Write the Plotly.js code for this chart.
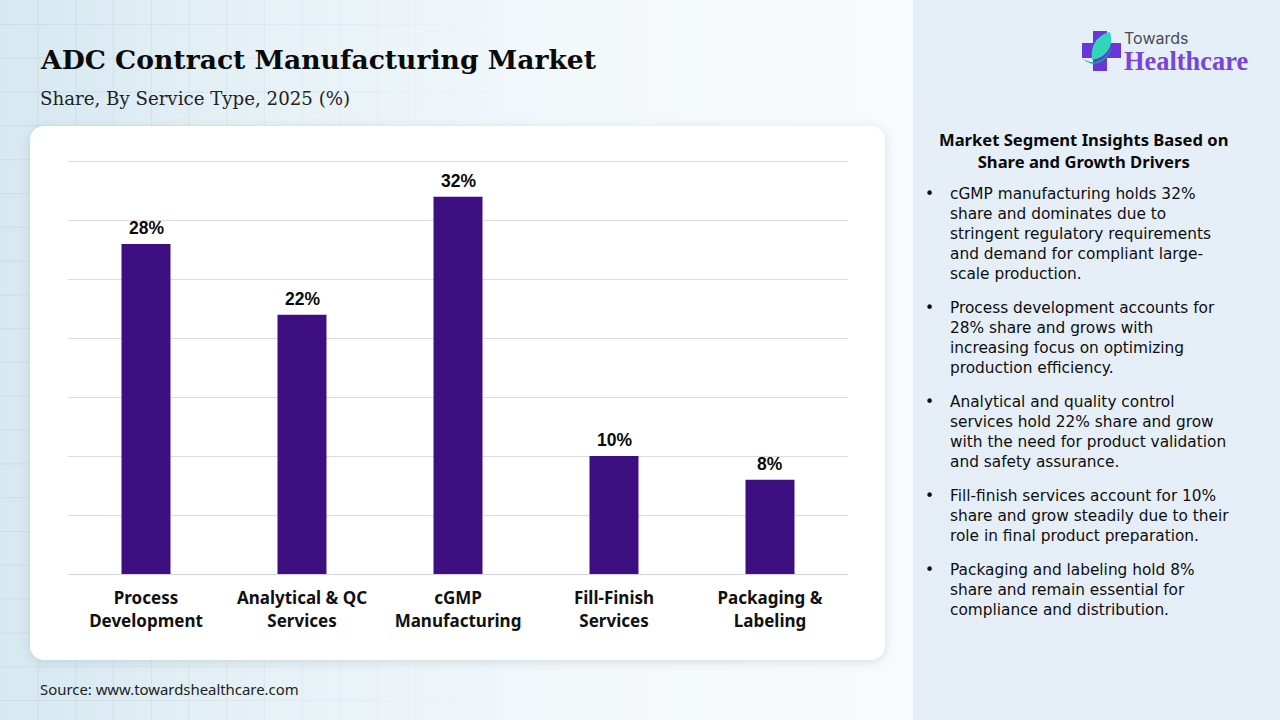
<!DOCTYPE html>
<html><head><meta charset="utf-8">
<script src="https://cdn.plot.ly/plotly-3.0.1.min.js"></script>
<style>
html,body{margin:0;padding:0;width:1280px;height:720px;overflow:hidden}
#bg{position:absolute;left:0;top:0;width:1280px;height:720px;
background:linear-gradient(90deg,#d6e8f1 0%,#e6f1f6 20%,#f3f8fb 45%,#f8fbfd 71%);}
#panel{position:absolute;left:913px;top:0;width:367px;height:720px;background:linear-gradient(180deg,#e5eff7,#e5eef6)}
#card{position:absolute;left:30px;top:126px;width:855px;height:534px;background:#fff;border-radius:14px;box-shadow:0 2px 10px rgba(120,140,160,.25)}
#deco{position:absolute;left:0;top:0}
#chart{position:absolute;left:0;top:0;width:1280px;height:720px}
</style></head><body>
<div id="bg"></div>
<svg id="deco" width="1280" height="720"></svg>
<div id="panel"></div>
<div id="card"></div>
<svg id="logo" style="position:absolute;left:0;top:0" width="1280" height="720">
<path d="M1093 31h14v12h14v15h-14v13h-14v-13h-11v-15h11z" fill="#6a35d9"/>
<path d="M1092 60c-2-14 5-25 18-28c4 13-2 25-18 28z" fill="#2fd6b8"/>
<path d="M1083 59c8 5 20 6 29-12c-3 13-17 23-29 12z" fill="#12a89a"/>
</svg>
<div id="chart"></div>
<script>
var categories=["Process<br>Development","Analytical & QC<br>Services","cGMP<br>Manufacturing","Fill-Finish<br>Services","Packaging &<br>Labeling"];
var shares=[28,22,32,10,8];
var chartTitle="ADC Contract Manufacturing Market";
var chartSubtitle="Share, By Service Type, 2025 (%)";
var sourceText="Source: www.towardshealthcare.com";
var insightsHeading="Market Segment Insights Based on<br>Share and Growth Drivers";
var insights=[
["cGMP manufacturing holds 32%","share and dominates due to","stringent regulatory requirements","and demand for compliant large-","scale production."],
["Process development accounts for","28% share and grows with","increasing focus on optimizing","production efficiency."],
["Analytical and quality control","services hold 22% share and grow","with the need for product validation","and safety assurance."],
["Fill-finish services account for 10%","share and grow steadily due to their","role in final product preparation."],
["Packaging and labeling hold 8%","share and remain essential for","compliance and distribution."]];
var insightTops=[184,298,392,486,560];

// faint background grid
var deco=document.getElementById('deco'),s='<defs><linearGradient id="f" gradientUnits="userSpaceOnUse" x1="0" y1="0" x2="520" y2="0"><stop offset="0" stop-color="#c4d6df" stop-opacity=".65"/><stop offset="1" stop-color="#c4d6df" stop-opacity="0"/></linearGradient></defs>';
for(var i=1;i<14;i++){var x=i*37.7;s+='<rect x="'+x+'" y="0" width="1" height="720" fill="url(#f)"/>';}
for(var j=0;j<22;j++){var y=24+(j-1)*33.8;s+='<rect x="0" y="'+y+'" width="520" height="1" fill="url(#f)"/>';}
deco.innerHTML=s;

var yTop=35.2,L=68,R=848,B=574,T=B-yTop*(413/35);
function px(x){return (x-L)/(R-L)}
function py(y){return (B-y)/(B-T)}
function note(x,y,text,font,opt){
  return Object.assign({xref:'paper',yref:'paper',x:px(x),y:py(y),text:text,showarrow:false,xanchor:'left',yanchor:'top',align:'left',font:font,borderpad:0},opt||{});
}
var body={family:'DejaVu Sans',size:15.35,color:'#0e0e0e'};
var anns=[
 note(39,43,chartTitle,{family:'DejaVu Serif',size:26.6,color:'#0a0a0a',weight:700}),
 note(39,87,chartSubtitle,{family:'DejaVu Serif',size:18.2,color:'#222'}),
 note(39,678,sourceText,{family:'Noto Sans',size:14.9,color:'#222'}),
 note(1123,27,'Towards',{family:'Inter',size:16,color:'#4a4a52'}),
 note(1123,45,'Healthcare',{family:'Liberation Serif',size:26.4,color:'#7a45d6',weight:700}),
 note(1083,127,insightsHeading,{family:'Noto Sans',size:16.6,color:'#0a0a0a',weight:700},{xanchor:'center',align:'center'})
];
insights.forEach(function(lines,i){
  anns.push(note(924,insightTops[i],'•',body));
  lines.forEach(function(t,k){anns.push(note(949,insightTops[i]+k*20,t,body));});
});
shares.forEach(function(v,i){
  anns.push({xref:'x',yref:'y',x:i,y:v,text:v+'%',showarrow:false,xanchor:'center',yanchor:'bottom',yshift:5,borderpad:0,
    font:{family:'Liberation Sans',size:17.5,color:'#0a0a0a',weight:700}});
});
Plotly.newPlot('chart',[{
  type:'bar',x:categories,y:shares,width:0.314,
  marker:{color:'#3d0f80'},
  hoverinfo:'skip'
}],{
  width:1280,height:720,autosize:false,
  margin:{l:L,r:1280-R,t:T,b:720-B,pad:0},
  paper_bgcolor:'rgba(0,0,0,0)',plot_bgcolor:'rgba(0,0,0,0)',
  showlegend:false,
  xaxis:{type:'category',tickfont:{family:'Noto Sans',size:17,color:'#111',weight:700},ticks:'',ticklen:0,ticklabelstandoff:9,showline:true,linecolor:'#d5d3dc',linewidth:1,showgrid:false,automargin:false},
  yaxis:{range:[0,yTop],dtick:5,showticklabels:false,ticks:'',showgrid:true,gridcolor:'#dcdcdc',gridwidth:1,zeroline:false,showline:false,automargin:false},
  annotations:anns
},{displayModeBar:false,staticPlot:true});
</script>
</body></html>
